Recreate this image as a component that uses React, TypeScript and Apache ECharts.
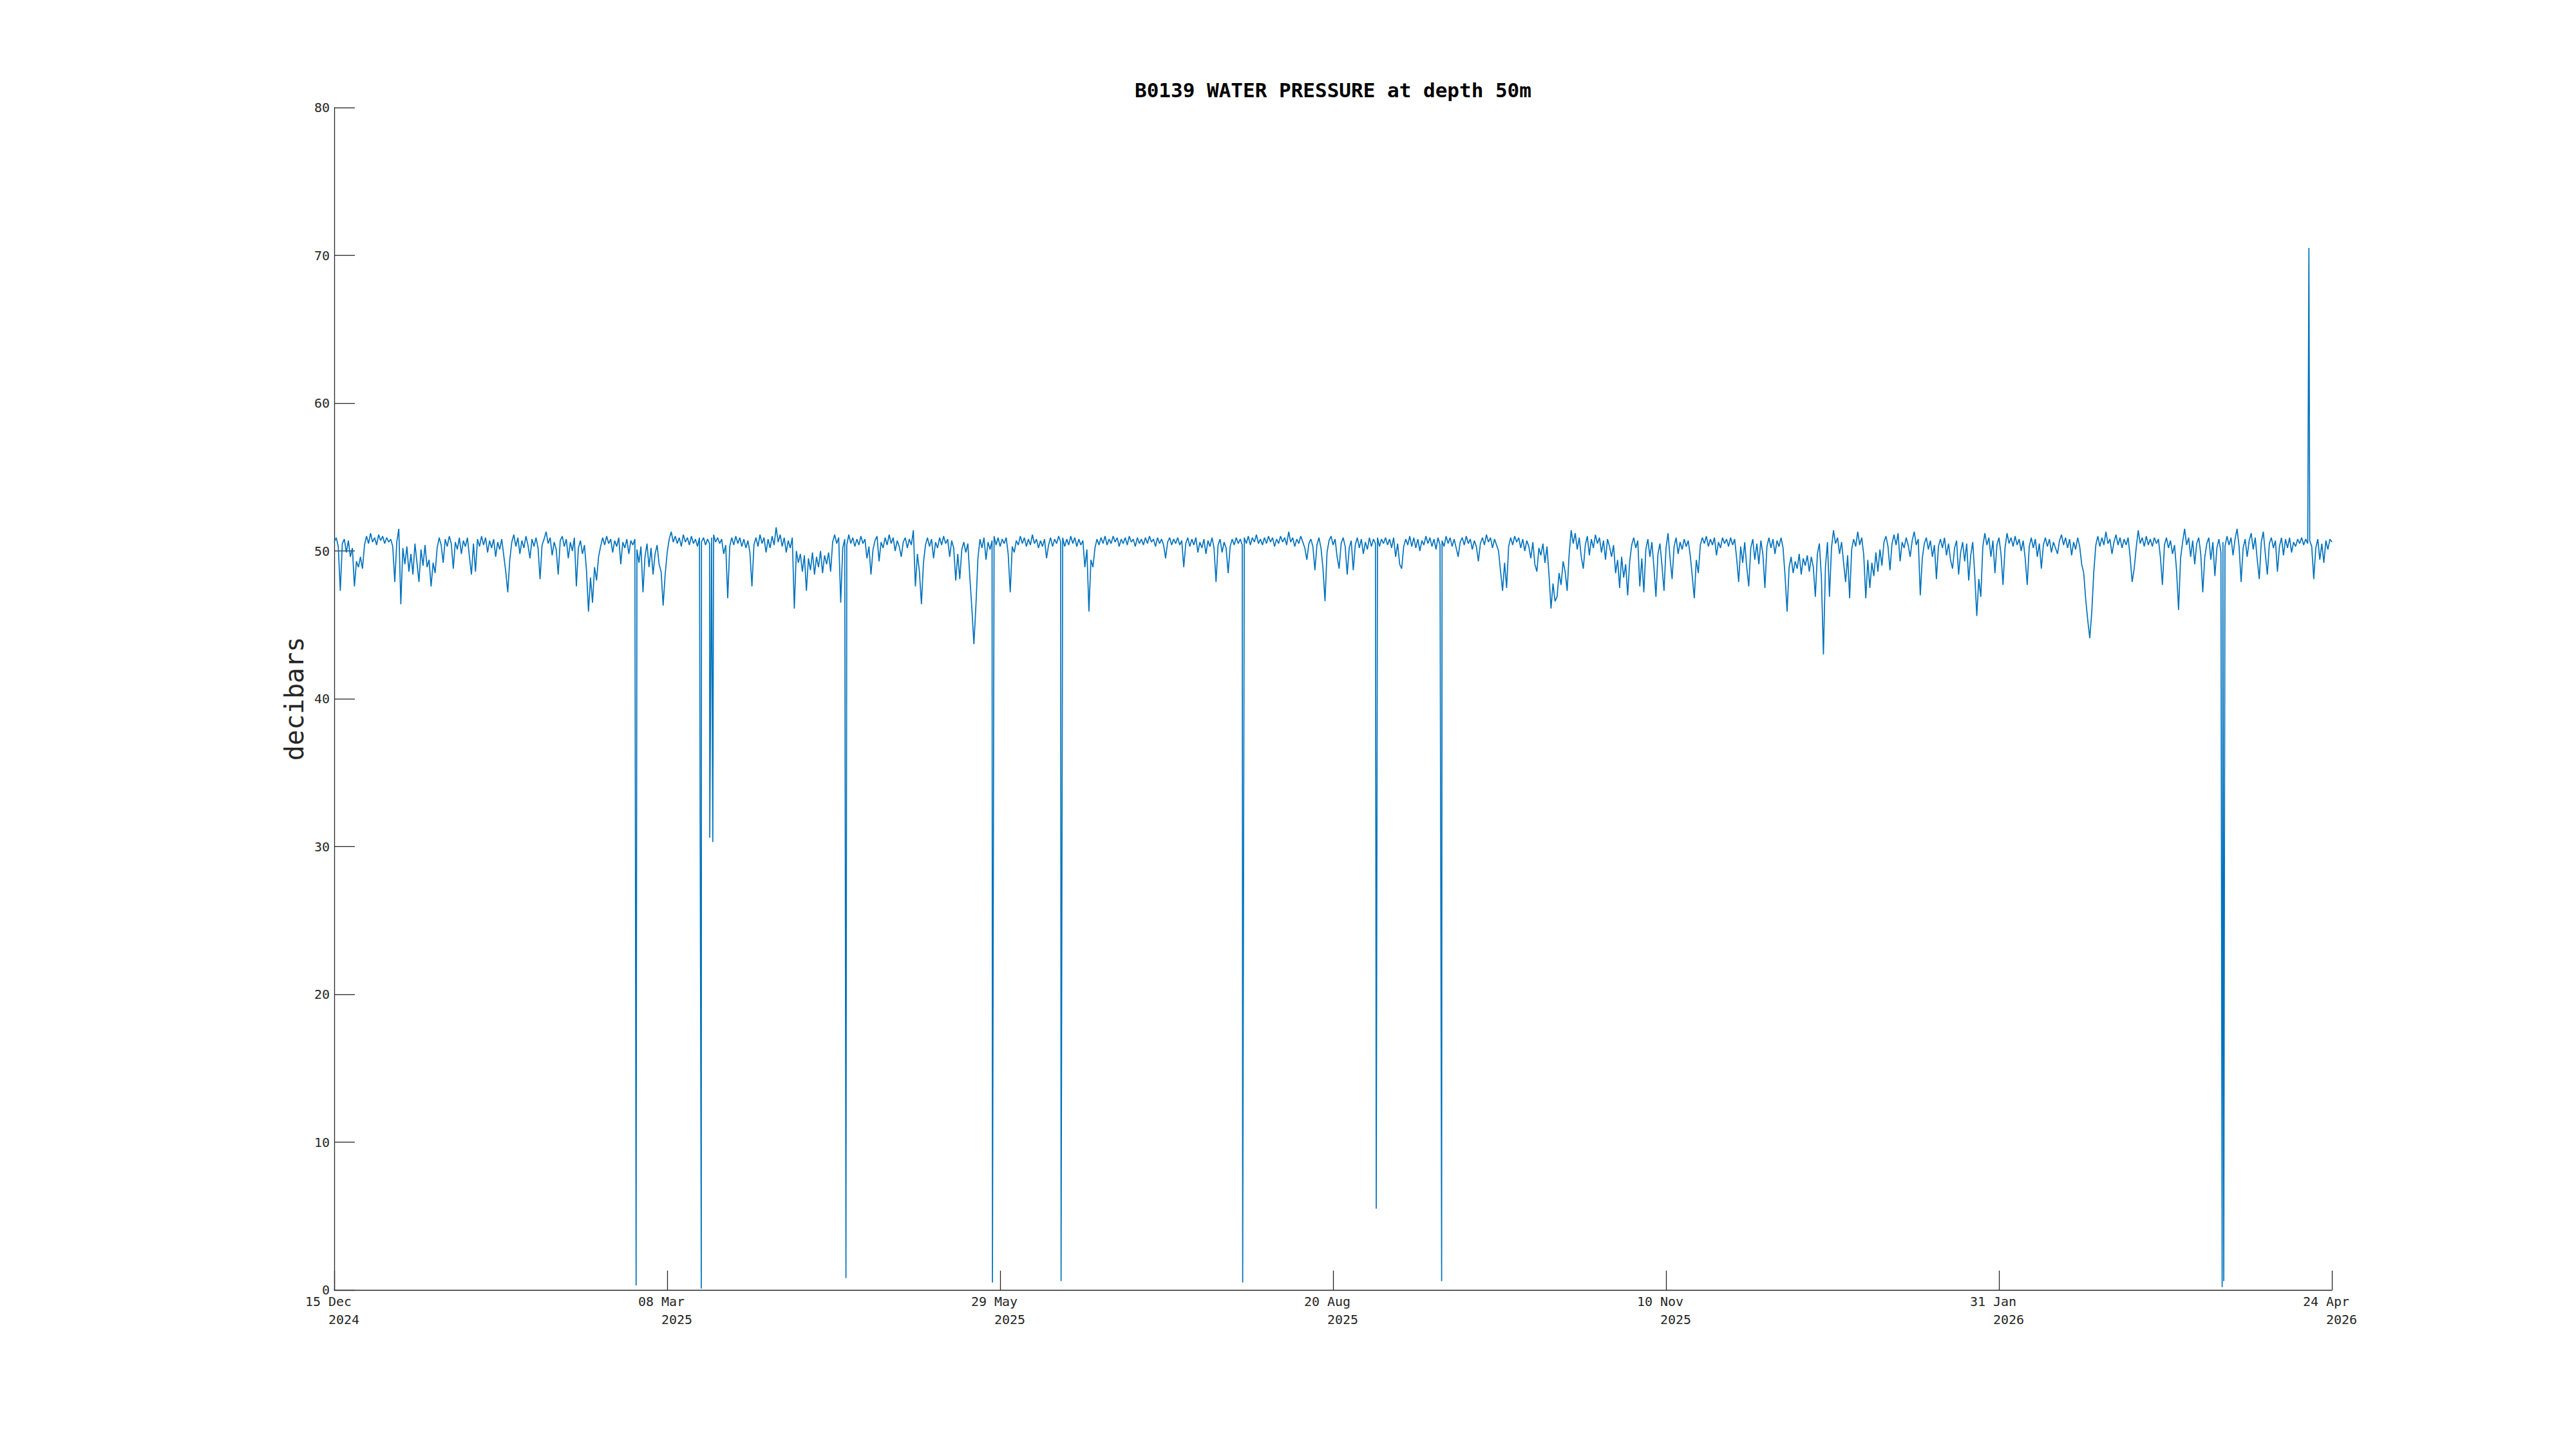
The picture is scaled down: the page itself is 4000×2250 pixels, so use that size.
import React, { useEffect, useRef } from "react";
import * as echarts from "echarts";

// ---------- texts ----------
const TITLE = "B0139 WATER PRESSURE at depth 50m";
const Y_LABEL = "decibars";

// ---------- x-axis ticks (days since 15 Dec 2024) ----------
const tickDayMonth = ["15 Dec", "08 Mar", "29 May", "20 Aug", "10 Nov", "31 Jan", "24 Apr"];
const tickYear = ["2024", "2025", "2025", "2025", "2025", "2026", "2026"];
const TICK_STEP_DAYS = 82.5;
const X_MAX_DAYS = 495;
const SAMPLE_STEP_DAYS = 0.5;

// ---------- y-axis ----------
const Y_MIN = 0;
const Y_MAX = 80;
const Y_STEP = 10;

// ---------- pressure readings, every half day (decibars) ----------
// 15 Dec 2024 - 03 Feb 2025
const segA = [
  50.6, 50.9, 50.3, 47.3, 50.5, 50.8, 49.9, 50.7, 49.6, 50.2,
  47.6, 49.3, 48.9, 49.6, 48.8, 50.4, 51.0, 50.5, 51.2, 50.6,
  50.9, 50.4, 51.1, 50.7, 51.0, 50.5, 50.9, 50.6, 50.8, 50.3,
  47.9, 50.6, 51.5, 46.4, 50.2, 49.1, 50.3, 48.6, 49.8, 48.4,
  50.5, 49.2, 47.9, 50.1, 49.0, 50.4, 48.9, 49.4, 47.6, 49.2,
  48.5, 50.2, 50.9, 50.4, 49.2, 50.8, 50.3, 51.0, 50.5, 48.8,
  50.6, 50.1, 50.9, 49.8, 50.7, 50.3, 50.9, 49.6, 48.4, 50.5,
  48.6, 50.8, 50.3, 51.0, 50.4, 50.9, 49.9, 50.7, 50.2, 50.8,
  49.6, 50.6, 50.1, 50.8, 49.7, 48.6, 47.2, 49.4, 50.6, 51.1,
  50.3, 50.9, 49.8, 50.7, 50.2, 51.0, 50.4, 49.5, 50.8, 50.3,
];
// 03 Feb 2025 - 25 Mar 2025
const segB = [
  50.9, 50.2, 48.1, 50.4, 50.8, 51.3, 50.5, 50.9, 49.7, 50.6,
  50.1, 48.4, 50.7, 51.0, 50.3, 50.8, 49.5, 50.6, 50.0, 50.9,
  47.6, 50.2, 50.7, 49.8, 50.4, 48.7, 45.9, 48.2, 46.5, 48.9,
  48.0, 49.6, 50.3, 50.9, 50.4, 51.0, 50.5, 50.8, 49.9, 50.7,
  50.3, 50.9, 49.1, 50.6, 50.2, 50.8, 49.8, 50.7, 50.4, 50.8,
  50.1, 49.2, 50.3, 47.2, 49.6, 50.5, 48.9, 50.2, 48.4, 49.8,
  50.4, 49.1, 48.6, 46.3, 48.4, 49.9, 50.8, 51.3, 50.6, 51.0,
  50.5, 50.9, 50.3, 51.1, 50.6, 50.9, 50.4, 51.0, 50.5, 50.8,
  50.3, 50.9, 50.6, 50.9, 50.4, 50.8, 50.5, 50.9, 51.1, 50.6,
  50.9, 50.5, 50.8, 49.8, 50.4, 46.8, 50.3, 50.9, 50.4, 51.0,
];
// 25 Mar 2025 - 14 May 2025
const segC = [
  50.5, 50.9, 50.3, 50.8, 50.2, 50.7, 49.9, 47.6, 50.4, 50.9,
  50.3, 51.1, 50.5, 50.9, 49.9, 50.8, 50.2, 51.0, 50.4, 51.6,
  50.6, 51.1, 50.3, 50.9, 49.9, 50.7, 50.2, 50.9, 46.1, 50.0,
  49.2, 49.8, 48.6, 49.7, 47.3, 49.5, 48.7, 49.9, 48.4, 49.6,
  48.9, 50.0, 48.5, 49.7, 49.1, 49.9, 48.6, 50.6, 51.1, 50.5,
  50.9, 46.5, 50.2, 50.8, 50.4, 51.1, 50.5, 50.9, 50.3, 50.8,
  50.4, 51.0, 50.5, 50.8, 49.5, 50.3, 48.4, 50.1, 50.7, 51.0,
  49.3, 50.6, 50.2, 50.9, 50.4, 51.1, 50.5, 50.9, 50.0, 50.7,
  50.3, 49.6, 50.6, 50.9, 50.2, 50.8, 50.4, 51.4, 47.6, 49.8,
  48.6, 46.4, 49.2, 50.4, 50.9, 50.3, 50.8, 49.5, 50.6, 50.2,
];
// 14 May 2025 - 03 Jul 2025
const segD = [
  50.9, 50.4, 51.0, 50.5, 50.8, 49.6, 50.7, 50.2, 48.0, 49.8,
  48.1, 50.1, 50.6, 49.9, 50.5, 48.2, 46.1, 43.7, 46.3, 49.5,
  50.8, 50.2, 50.9, 49.4, 50.6, 50.1, 50.7, 51.0, 50.4, 50.9,
  50.3, 50.8, 50.5, 50.9, 49.8, 47.2, 50.3, 49.9, 50.7, 50.4,
  51.0, 50.5, 50.9, 50.3, 50.8, 50.4, 51.1, 50.5, 50.8, 50.2,
  50.7, 50.3, 50.8, 49.5, 50.4, 50.9, 50.3, 50.8, 50.5, 51.0,
  50.6, 50.9, 50.3, 50.8, 50.4, 51.0, 50.5, 50.9, 50.3, 50.8,
  50.4, 50.7, 48.9, 50.1, 45.9, 49.4, 48.9, 50.2, 50.8, 50.4,
  50.9, 50.5, 51.0, 50.4, 50.8, 50.5, 51.0, 50.6, 50.9, 50.3,
  50.8, 50.5, 50.9, 50.4, 51.0, 50.6, 50.8, 50.3, 50.9, 50.5,
];
// 03 Jul 2025 - 22 Aug 2025
const segE = [
  50.8, 50.4, 50.9, 50.5, 51.0, 50.6, 50.8, 50.3, 50.9, 50.5,
  50.8, 50.4, 49.5, 50.6, 50.9, 50.4, 50.8, 50.5, 50.9, 50.4,
  50.7, 48.9, 50.5, 50.9, 50.3, 50.8, 50.4, 50.9, 49.9, 50.6,
  50.2, 50.8, 49.8, 50.7, 50.3, 50.9, 50.2, 47.9, 50.4, 50.8,
  49.9, 50.6, 50.2, 48.5, 50.3, 50.8, 50.4, 50.9, 50.5, 50.8,
  50.4, 50.9, 50.5, 51.0, 50.4, 50.9, 50.6, 51.1, 50.5, 50.8,
  50.4, 50.9, 50.5, 51.0, 50.6, 50.9, 50.3, 50.8, 50.5, 51.0,
  50.6, 50.9, 50.4, 51.3, 50.6, 50.9, 50.3, 50.8, 50.5, 51.0,
  50.6, 50.2, 49.4, 50.5, 50.8, 50.3, 48.7, 50.4, 50.9, 50.2,
  48.8, 46.6, 49.9, 50.7, 51.0, 50.4, 50.8, 49.6, 48.8, 50.5,
];
// 22 Aug 2025 - 11 Oct 2025
const segF = [
  50.9, 50.3, 48.4, 50.2, 50.7, 48.7, 50.4, 50.9, 50.2, 50.8,
  49.8, 50.6, 50.1, 50.9, 50.3, 50.8, 50.5, 50.9, 50.3, 50.8,
  50.5, 50.9, 50.4, 50.8, 50.2, 50.9, 49.6, 50.5, 49.1, 48.8,
  50.3, 50.8, 50.4, 51.0, 50.3, 50.9, 50.2, 50.8, 50.0, 50.7,
  50.4, 51.0, 50.5, 50.9, 50.3, 50.8, 50.1, 50.9, 50.4, 50.7,
  50.3, 51.0, 50.5, 50.9, 50.3, 50.8, 50.2, 49.6, 50.6, 50.9,
  50.4, 51.0, 50.5, 50.8, 50.1, 50.7, 50.3, 49.3, 50.5, 50.9,
  50.4, 51.1, 50.6, 50.9, 50.2, 50.8, 50.4, 50.0, 48.6, 47.3,
  49.2, 47.5, 50.3, 50.9, 50.4, 51.0, 50.6, 50.9, 50.2, 50.8,
  50.0, 50.7, 50.3, 49.5, 50.6, 49.1, 48.6, 50.2, 49.7, 50.5,
];
// 11 Oct 2025 - 30 Nov 2025
const segG = [
  49.2, 50.3, 48.4, 46.1, 47.8, 46.6, 46.9, 48.5, 47.7, 49.3,
  48.6, 47.3, 49.8, 51.4, 50.5, 51.2, 50.1, 50.9, 49.6, 48.8,
  50.4, 51.0, 49.7, 50.8, 50.2, 51.1, 50.5, 50.9, 49.9, 50.7,
  49.4, 50.8, 50.3, 49.6, 50.4, 48.5, 49.4, 47.5, 49.6, 48.2,
  49.1, 47.0, 49.3, 50.4, 50.9, 50.2, 50.7, 47.6, 49.5, 47.2,
  50.1, 50.8, 49.6, 50.6, 48.9, 46.9, 49.8, 50.5, 49.0, 47.3,
  50.2, 51.2, 49.5, 48.1, 50.3, 50.9, 49.8, 50.6, 50.1, 50.8,
  50.3, 50.7, 49.7, 48.3, 46.8, 49.4, 48.5, 50.4, 50.9, 50.5,
  51.0, 50.3, 50.8, 50.4, 50.9, 49.7, 50.6, 50.2, 50.9, 50.5,
  50.8, 50.3, 50.9, 50.4, 50.8, 49.5, 47.9, 50.3, 49.2, 50.6,
];
// 30 Nov 2025 - 19 Jan 2026
const segH = [
  48.9, 47.6, 50.2, 50.8, 49.4, 50.5, 49.1, 50.7, 49.8, 47.5,
  50.3, 50.9, 50.2, 50.8, 49.8, 50.7, 50.3, 50.9, 50.2, 48.3,
  45.9, 48.9, 49.6, 48.5, 49.3, 48.8, 49.8, 48.4, 49.5, 49.0,
  49.7, 48.6, 49.6, 48.9, 46.9, 49.8, 50.5, 48.2, 43.0, 48.9,
  50.6, 46.9, 50.2, 51.4, 50.5, 50.9, 49.8, 50.6, 49.2, 47.9,
  49.7, 46.8, 50.1, 50.8, 50.3, 51.3, 50.4, 50.9, 49.7, 46.8,
  49.4, 47.5, 49.2, 48.3, 49.9, 48.6, 50.1, 49.0, 50.6, 51.0,
  50.3, 48.7, 50.5, 51.1, 50.4, 51.2, 49.3, 50.6, 50.2, 50.9,
  50.4, 49.6, 50.7, 51.3, 50.4, 50.8, 47.0, 49.5, 50.5, 50.9,
  50.1, 50.7, 49.6, 50.4, 48.1, 50.3, 50.8, 50.2, 50.9, 49.7,
];
// 19 Jan 2026 - 10 Mar 2026
const segI = [
  50.5, 49.4, 48.8, 50.2, 50.7, 48.4, 49.9, 50.6, 49.3, 50.5,
  48.0, 49.7, 50.6, 48.4, 45.6, 48.1, 46.9, 50.3, 51.2, 50.4,
  50.9, 49.6, 50.7, 48.5, 50.4, 50.9, 49.8, 47.7, 50.2, 51.2,
  50.5, 50.9, 50.3, 51.0, 50.4, 50.8, 50.0, 50.7, 49.5, 47.7,
  50.3, 50.9, 50.2, 50.8, 49.6, 50.5, 48.8, 50.4, 50.9, 50.3,
  50.8, 49.9, 50.6, 50.2, 49.8, 50.7, 51.1, 50.4, 50.9, 50.2,
  50.8, 49.7, 50.6, 50.1, 50.9, 50.3, 49.1, 48.5, 46.7, 45.3,
  44.1, 45.9, 48.6, 50.4, 51.0, 50.3, 50.9, 50.4, 51.3, 50.5,
  50.8, 49.8, 50.6, 51.1, 50.4, 50.9, 50.2, 50.8, 50.4, 50.9,
  49.6, 47.9, 48.8, 50.2, 51.4, 50.5, 50.9, 50.3, 51.0, 50.4,
];
// 10 Mar 2026 - 24 Apr 2026
const segJ = [
  50.8, 50.3, 50.9, 50.5, 50.8, 49.6, 47.7, 50.4, 50.9, 50.2,
  50.7, 49.8, 50.4, 48.7, 46.0, 49.5, 50.6, 51.5, 50.4, 50.9,
  49.6, 50.7, 49.1, 50.5, 50.9, 49.8, 47.2, 49.6, 50.5, 50.9,
  49.4, 50.6, 48.3, 50.2, 50.8, 49.9, 50.6, 50.3, 51.0, 50.4,
  50.9, 49.7, 50.8, 51.5, 50.3, 47.9, 50.2, 50.8, 49.6, 50.7,
  51.2, 50.1, 50.9, 49.4, 48.1, 50.6, 51.3, 49.8, 48.4, 50.5,
  50.9, 50.2, 50.7, 48.6, 50.3, 50.9, 49.7, 50.8, 50.2, 50.9,
  49.9, 50.6, 50.3, 50.8, 50.5, 50.9, 50.4, 50.8, 50.5, 50.7,
  50.3, 48.1, 50.2, 50.8, 49.4, 50.5, 49.2, 50.7, 50.1, 50.8,
  50.6,
];

// isolated spikes: [day since 15 Dec 2024, decibars]
const spikes = [
  [74.8, 0.3],
  [90.95, 0.1],
  [93.05, 30.6],
  [93.8, 30.3],
  [126.8, 0.8],
  [163.1, 0.5],
  [180.1, 0.6],
  [225.1, 0.5],
  [258.2, 5.5],
  [274.4, 0.6],
  [467.8, 0.2],
  [468.2, 0.6],
  [489.3, 70.5],
];

const FONT = "DejaVu Sans Mono";
const AXIS_COLOR = "#262626";
const LINE_COLOR = "#0072BD";

function buildData(): number[][] {
  const all = [...segA, ...segB, ...segC, ...segD, ...segE, ...segF, ...segG, ...segH, ...segI, ...segJ];
  const pts: number[][] = all.map((v, i) => [i * SAMPLE_STEP_DAYS, v]);
  spikes.forEach((s) => pts.push([s[0], s[1]]));
  pts.sort((a, b) => a[0] - b[0]);
  return pts;
}

export default function App() {
  const ref = useRef<HTMLDivElement>(null);

  useEffect(() => {
    if (!ref.current) return;
    const chart = echarts.init(ref.current, undefined, { renderer: "svg" });
    const data = buildData();
    chart.setOption({
      animation: false,
      backgroundColor: "#ffffff",
      title: {
        text: TITLE,
        left: 2065,
        top: 119,
        textAlign: "center",
        textStyle: { fontFamily: FONT, fontWeight: "bold", fontSize: 31, color: "#000000" },
      },
      grid: { left: 519, right: 379, top: 167, bottom: 247, containLabel: false },
      xAxis: {
        type: "value",
        min: 0,
        max: X_MAX_DAYS,
        interval: TICK_STEP_DAYS,
        axisLine: { show: true, lineStyle: { color: AXIS_COLOR, width: 1.3 } },
        axisTick: { show: true, inside: true, length: 30, lineStyle: { color: AXIS_COLOR, width: 1.3 } },
        splitLine: { show: false },
        axisLabel: {
          margin: 4,
          fontFamily: FONT,
          fontSize: 20,
          color: AXIS_COLOR,
          formatter: (v: number) => {
            const i = Math.round(v / TICK_STEP_DAYS);
            return `{a|${tickDayMonth[i]}}\n{b|${tickYear[i]}}`;
          },
          rich: {
            a: { fontFamily: FONT, fontSize: 20, color: AXIS_COLOR, lineHeight: 28, padding: [0, 18, 0, 0] },
            b: { fontFamily: FONT, fontSize: 20, color: AXIS_COLOR, lineHeight: 28, padding: [0, 6, 0, 36] },
          },
        },
      },
      yAxis: {
        type: "value",
        min: Y_MIN,
        max: Y_MAX,
        interval: Y_STEP,
        name: Y_LABEL,
        nameLocation: "middle",
        nameGap: 42,
        nameTextStyle: { fontFamily: FONT, fontSize: 40, color: AXIS_COLOR },
        axisLine: { show: true, lineStyle: { color: AXIS_COLOR, width: 1.3 } },
        axisTick: { show: true, inside: true, length: 32, lineStyle: { color: AXIS_COLOR, width: 1.3 } },
        splitLine: { show: false },
        axisLabel: { margin: 7, fontFamily: FONT, fontSize: 20, color: AXIS_COLOR },
      },
      series: [
        {
          type: "line",
          data,
          showSymbol: false,
          symbol: "none",
          lineStyle: { color: LINE_COLOR, width: 1.7 },
          itemStyle: { color: LINE_COLOR },
          emphasis: { disabled: true },
        },
      ],
    });
    return () => chart.dispose();
  }, []);

  return (
    <div
      ref={ref}
      style={{ position: "fixed", left: 0, top: 0, width: 4000, height: 2250, background: "#fff" }}
    />
  );
}
